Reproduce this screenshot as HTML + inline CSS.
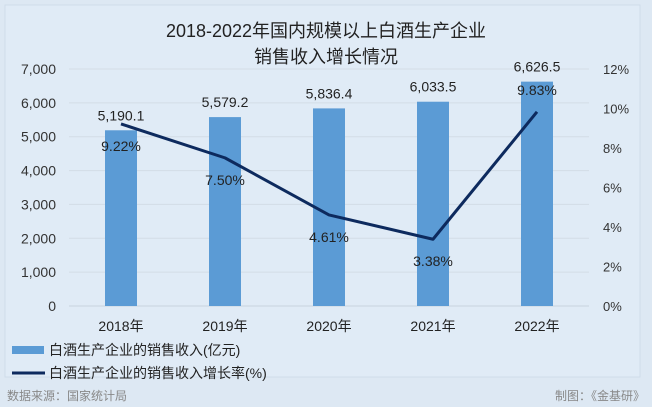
<!DOCTYPE html>
<html><head><meta charset="utf-8"><style>
body{margin:0;background:#dfe9f4;}
svg{display:block;font-family:"Liberation Sans","Noto Sans CJK SC",sans-serif;}
</style></head><body>
<svg width="652" height="407" viewBox="0 0 652 407">
<rect x="0" y="0" width="652" height="407" fill="#dde8f3"/>
<rect x="5" y="5" width="635" height="372" fill="#e0ebf6" stroke="#cfdcea"/>
<text x="326" y="37" text-anchor="middle" font-size="18" fill="#222">2018-2022年国内规模以上白酒生产企业</text>
<text x="326" y="63" text-anchor="middle" font-size="18" fill="#222">销售收入增长情况</text>
<g id="grid"></g><g id="bars"></g><g id="line"></g><g id="labels"></g>
<rect x="12" y="346" width="32" height="8" fill="#5b9bd5"/>
<text x="49" y="355" font-size="14" fill="#222">白酒生产企业的销售收入(亿元)</text>
<line x1="12" y1="373" x2="45" y2="373" stroke="#0d2a5e" stroke-width="3"/>
<text x="49" y="378" font-size="14" fill="#222">白酒生产企业的销售收入增长率(%)</text>
<text x="7" y="400" font-size="12" fill="#888">数据来源：国家统计局</text>
<text x="645" y="400" text-anchor="end" font-size="12" fill="#888">制图：《金基研》</text>
</svg>
<script>
const categories=["2018年","2019年","2020年","2021年","2022年"];
const revenue=[5190.1,5579.2,5836.4,6033.5,6626.5];
const revenueLabels=["5,190.1","5,579.2","5,836.4","6,033.5","6,626.5"];
const growth=[9.22,7.50,4.61,3.38,9.83];
const growthLabels=["9.22%","7.50%","4.61%","3.38%","9.83%"];
const leftTicks=[0,1000,2000,3000,4000,5000,6000,7000];
const leftTickLabels=["0","1,000","2,000","3,000","4,000","5,000","6,000","7,000"];
const rightTicks=[0,2,4,6,8,10,12];
const rightTickLabels=["0%","2%","4%","6%","8%","10%","12%"];
const NS="http://www.w3.org/2000/svg";
const X0=69,X1=589,Y0=306,Y1=69;
const band=(X1-X0)/categories.length;
const xc=i=>X0+band*(i+0.5);
const yL=v=>Y0-(v/7000)*(Y0-Y1);
const yR=v=>Y0-(v/12)*(Y0-Y1);
function mk(tag,attrs,parent,text){const e=document.createElementNS(NS,tag);for(const k in attrs)e.setAttribute(k,attrs[k]);if(text!=null)e.textContent=text;document.getElementById(parent).appendChild(e);return e;}
leftTicks.forEach((t,i)=>{
 const l=mk('line',{x1:X0,x2:X1,y1:yL(t),y2:yL(t),stroke:i==0?'#c9d3dd':'#d3dce6','stroke-width':1},'grid');
 
 
 const tx=mk('text',{x:56,y:yL(t)+5,'text-anchor':'end','font-size':14,fill:'#333'},'grid',leftTickLabels[i]);
 
 
});
rightTicks.forEach((t,i)=>{
 const tx=mk('text',{x:603,y:yR(t)+5,'font-size':13,fill:'#333'},'grid',rightTickLabels[i]);
 
 
});
categories.forEach((c,i)=>{
 const b=mk('rect',{x:xc(i)-16,y:yL(revenue[i]),width:32,height:Y0-yL(revenue[i]),fill:'#5b9bd5'},'bars');
 
 
 const vl=mk('text',{x:xc(i),y:yL(revenue[i])-10,'text-anchor':'middle','font-size':14,fill:'#222'},'labels',revenueLabels[i]);
 
 
 const cl=mk('text',{x:xc(i),y:331,'text-anchor':'middle','font-size':14,fill:'#222'},'labels',c);
 
 
 const last=i==categories.length-1;
 const gl=mk('text',{x:xc(i),y:last?yR(growth[i])-17:yR(growth[i])+27,'text-anchor':'middle','font-size':14,fill:'#222'},'labels',growthLabels[i]);
 
 
});
const p=mk('polyline',{points:growth.map((g,i)=>xc(i)+','+yR(g)).join(' '),fill:'none',stroke:'#0d2a5e','stroke-width':3,'stroke-linejoin':'round'},'line');


</script>
</body></html>
